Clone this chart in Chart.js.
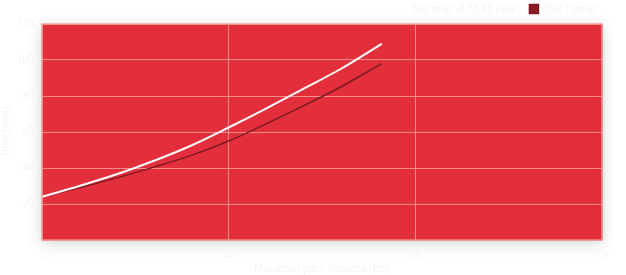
<!DOCTYPE html>
<html>
<head>
<meta charset="utf-8">
<script src="https://cdn.jsdelivr.net/npm/chart.js@4/dist/chart.umd.min.js"></script>
<style>
  html, body { margin: 0; padding: 0; background: #fff; }
  #wrap { width: 626px; height: 275px; }
</style>
</head>
<body>
<div id="wrap"><canvas id="chart" width="626" height="275"></canvas></div>
<script>
// distance (km) and times
var distance = [0, 5, 10, 15, 20, 25, 30, 35, 40, 45.5];
var beginner = [24, 30, 36.5, 44, 52.5, 62.5, 73, 84, 95, 109];
var elite    = [24, 29, 34.5, 40.5, 47, 55, 64.5, 74.5, 85, 98];
var xTicks = [0, 25, 50, 75];
var yTicks = [0, 20, 40, 60, 80, 100, 120];

var faint = '#f3f3f3';
var gridPink = 'rgba(255,150,150,0.9)';

function toPoints(xs, ys) {
  return xs.map(function (x, i) { return { x: x, y: ys[i] }; });
}

// red plot background with a soft shadow around it
var plotBg = {
  id: 'plotBg',
  beforeDraw: function (chart) {
    var a = chart.chartArea, ctx = chart.ctx;
    ctx.save();
    ctx.shadowColor = 'rgba(0,0,0,0.18)';
    ctx.shadowBlur = 14;
    ctx.shadowOffsetY = 3;
    ctx.fillStyle = '#e32f3b';
    ctx.fillRect(a.left, a.top, a.right - a.left, a.bottom - a.top);
    ctx.restore();
  },
  afterDatasetsDraw: function (chart) {
    var a = chart.chartArea, ctx = chart.ctx;
    ctx.save();
    ctx.strokeStyle = 'rgba(240,150,150,0.9)';
    ctx.lineWidth = 1.5;
    ctx.strokeRect(a.left, a.top, a.right - a.left, a.bottom - a.top);
    ctx.restore();
  }
};

new Chart(document.getElementById('chart'), {
  type: 'line',
  data: {
    datasets: [
      {
        label: 'Beginner at 65 kg pace   ',
        data: toPoints(distance, beginner),
        borderColor: '#ffffff',
        backgroundColor: '#ffffff',
        borderWidth: 2,
        pointRadius: 0,
        cubicInterpolationMode: 'monotone'
      },
      {
        label: 'Elite runner',
        data: toPoints(distance, elite),
        borderColor: '#7e1a22',
        backgroundColor: '#8a1c26',
        borderWidth: 1.5,
        pointRadius: 0,
        cubicInterpolationMode: 'monotone'
      }
    ]
  },
  options: {
    responsive: false,
    animation: false,
    layout: { padding: { right: 24, top: 0 } },
    plugins: {
      legend: {
        align: 'end',
        labels: {
          color: faint,
          boxWidth: 9,
          boxHeight: 9,
          padding: 4,
          font: { family: 'Open Sans', size: 10 }
        }
      },
      tooltip: { enabled: false }
    },
    scales: {
      x: {
        type: 'linear',
        min: 0,
        max: 75,
        afterBuildTicks: function (axis) { axis.ticks = xTicks.map(function (v) { return { value: v }; }); },
        afterFit: function (axis) { axis.height = 35; },
        grid: { color: gridPink, drawTicks: false },
        border: { display: false },
        ticks: { color: faint, padding: 9, font: { family: 'Open Sans', size: 10 } },
        title: { display: true, text: 'Marathon pace distance (km)', color: faint, padding: 0, font: { family: 'Open Sans', size: 10 } }
      },
      y: {
        min: 0,
        max: 120,
        afterBuildTicks: function (axis) { axis.ticks = yTicks.map(function (v) { return { value: v }; }); },
        afterFit: function (axis) { axis.width = 42; },
        grid: { color: gridPink, drawTicks: false },
        border: { display: false },
        ticks: { color: faint, padding: 8, font: { family: 'Open Sans', size: 10 } },
        title: { display: true, text: 'Time (min)', color: faint, padding: 0, font: { family: 'Open Sans', size: 10 } }
      }
    }
  },
  plugins: [plotBg]
});
</script>
</body>
</html>
